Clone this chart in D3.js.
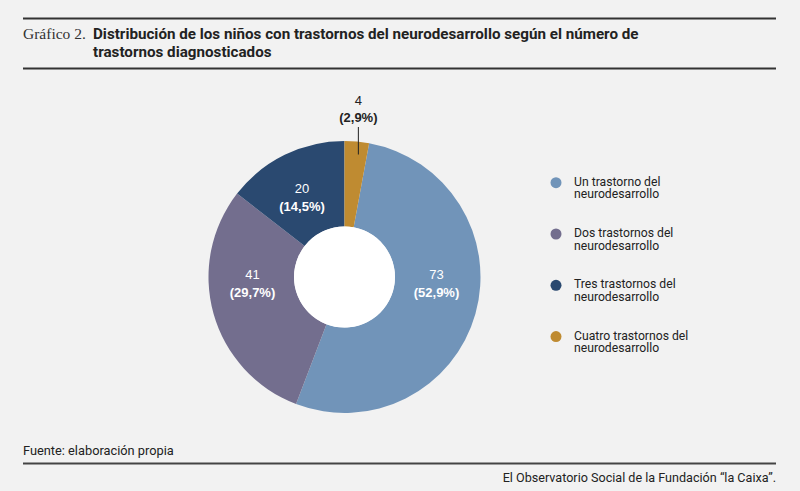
<!DOCTYPE html>
<html><head><meta charset="utf-8">
<script src="https://cdn.jsdelivr.net/npm/d3@7"></script>
<style>
html,body{margin:0;padding:0;background:#f2f2f2;}
svg{display:block;}
</style></head>
<body>
<script>
const categories = ["Un trastorno del|neurodesarrollo","Dos trastornos del|neurodesarrollo","Tres trastornos del|neurodesarrollo","Cuatro trastornos del|neurodesarrollo"];
const values = [73, 41, 20, 4];
const percentLabels = ["52,9%","29,7%","14,5%","2,9%"];
const colors = ["#7194b9","#736e8e","#2a4970","#bf8b31"];

const W = 800, H = 491;
const svg = d3.select("body").append("svg").attr("width", W).attr("height", H);
svg.append("rect").attr("width", W).attr("height", H).attr("fill", "#f2f2f2");

// header rules
svg.append("line").attr("x1",23).attr("x2",776).attr("y1",18.5).attr("y2",18.5).attr("stroke","#333").attr("stroke-width",2);
svg.append("line").attr("x1",23).attr("x2",776).attr("y1",68.5).attr("y2",68.5).attr("stroke","#333").attr("stroke-width",2);
svg.append("text").attr("x",23).attr("y",39).attr("font-family","Liberation Serif, DejaVu Serif, serif").attr("font-size",15.5).attr("fill","#333").text("Gráfico 2.");
const tt = svg.append("text").attr("font-family","'Roboto', sans-serif").attr("font-weight","bold").attr("font-size",15.2).attr("fill","#222");
tt.append("tspan").attr("x",93).attr("y",39).text("Distribución de los niños con trastornos del neurodesarrollo según el número de");
tt.append("tspan").attr("x",93).attr("y",57).text("trastornos diagnosticados");

// pie
const cx = 344.5, cy = 277, rOut = 136, rIn = 50.5;
const total = d3.sum(values);
const offset = 2*Math.PI*values[values.length-1]/total;
const pie = d3.pie().sort(null).startAngle(offset).endAngle(offset + 2*Math.PI);
const arcs = pie(values);
const arc = d3.arc().innerRadius(rIn).outerRadius(rOut);
const g = svg.append("g").attr("transform",`translate(${cx},${cy})`);
g.selectAll("path").data(arcs).enter().append("path").attr("d",arc).attr("fill",(d,i)=>colors[i]);
g.append("circle").attr("r",rIn).attr("fill","#ffffff");

const lblR = 92;
arcs.forEach((d,i)=>{
  let a = (d.startAngle + d.endAngle)/2;
  const span = d.endAngle - d.startAngle;
  if (span < 0.3) return;
  if (span > Math.PI/2) {
    const norm = x => ((x % (2*Math.PI)) + 2*Math.PI) % (2*Math.PI);
    const s = norm(d.startAngle), e = s + span;
    [Math.PI/2, 3*Math.PI/2, 5*Math.PI/2].forEach(h => { if (h > s && h < e) a = h; });
  }
  const x = lblR*Math.sin(a) - (span > Math.PI/2 ? 0 : 2), y = -lblR*Math.cos(a) - (span > Math.PI/2 ? 0 : 3);
  const t = g.append("text").attr("text-anchor","middle").attr("font-family","'Liberation Sans', Arial, sans-serif").attr("font-size",13).attr("fill","#fff");
  t.append("tspan").attr("x",x).attr("y",y+1.5).text(values[i]);
  t.append("tspan").attr("x",x).attr("y",y+19.5).attr("font-weight","bold").text("(" + percentLabels[i] + ")");
});
// small slice label with leader
{
  const i = arcs.length-1, d = arcs[i];
  const a = (d.startAngle + d.endAngle)/2;
  const lx = rOut*Math.sin(a) + 1.5;
  g.append("line").attr("x1",lx).attr("x2",lx).attr("y1",-123*Math.cos(a)).attr("y2",-150).attr("stroke","#222").attr("stroke-width",1);
  const t = g.append("text").attr("text-anchor","middle").attr("font-family","'Liberation Sans', Arial, sans-serif").attr("font-size",13).attr("fill","#222");
  t.append("tspan").attr("x",lx).attr("y",-172).text(values[i]);
  t.append("tspan").attr("x",lx).attr("y",-155).attr("font-weight","bold").text("(" + percentLabels[i] + ")");
}

// legend
const lg = svg.append("g");
categories.forEach((c,i)=>{
  const y = 182.7 + i*51.3;
  lg.append("circle").attr("cx",556).attr("cy",y).attr("r",5.5).attr("fill",colors[i]);
  const parts = c.split("|");
  const t = lg.append("text").attr("font-family","Roboto, sans-serif").attr("font-size",12.2).attr("fill","#222");
  t.append("tspan").attr("x",574).attr("y",y+3).text(parts[0]);
  t.append("tspan").attr("x",574).attr("y",y+15.5).text(parts[1]);
});

// footer
svg.append("text").attr("x",23).attr("y",454.5).attr("font-family","Roboto, sans-serif").attr("font-size",12.8).attr("fill","#222").text("Fuente: elaboración propia");
svg.append("line").attr("x1",23).attr("x2",776).attr("y1",463.5).attr("y2",463.5).attr("stroke","#444").attr("stroke-width",2);
svg.append("text").attr("x",776).attr("y",482).attr("text-anchor","end").attr("font-family","Roboto, sans-serif").attr("font-size",12.6).attr("fill","#222").text("El Observatorio Social de la Fundación “la Caixa”.");
</script>
</body></html>
